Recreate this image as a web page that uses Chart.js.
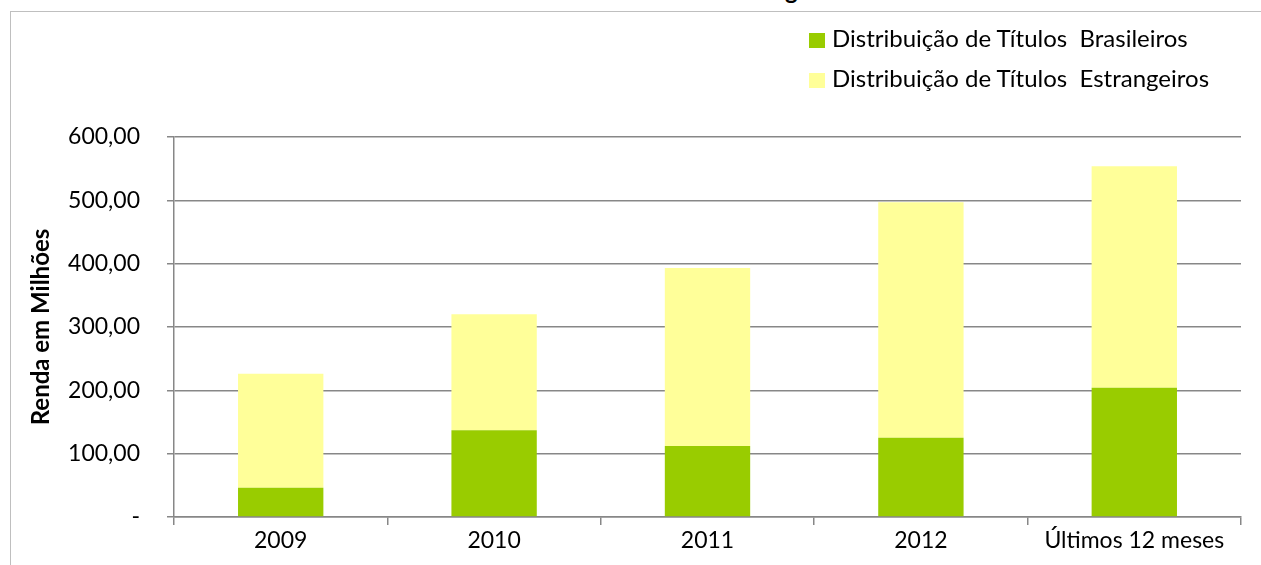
<!DOCTYPE html>
<html>
<head>
<meta charset="utf-8">
<script src="https://cdn.jsdelivr.net/npm/chart.js"></script>
<style>
  html, body { margin: 0; padding: 0; background: #fff; }
  body { width: 1261px; height: 565px; position: relative; overflow: hidden; font-family: Lato, "Open Sans", sans-serif; }
  #frame { position: absolute; left: 10px; top: 11px; width: 1300px; height: 600px; border-left: 1px solid #bfbfbf; border-top: 1px solid #bfbfbf; }
  #title { position: absolute; left: 181px; width: 1000px; top: -25px; white-space: nowrap; font-weight: bold; font-size: 24px; letter-spacing: 1.2px; color: #000; }
  #chartBox { position: absolute; left: 0; top: 0; width: 1261px; height: 565px; }
  .leg { position: absolute; left: 809px; font-size: 24px; color: #000; height: 24px; line-height: 24px; white-space: nowrap; }
  .leg span { display: inline-block; width: 16px; height: 15px; vertical-align: -1px; margin-right: 7px; }
</style>
</head>
<body>
<div id="title">Resultado de Vendas dos Títulos Nacionais e Estrangeiros em Milhões de Reais</div>
<div id="frame"></div>
<div id="chartBox"><canvas id="chart" width="1261" height="565"></canvas></div>
<div id="legend"></div>
<script>
  // Dados
  const categories = ["2009", "2010", "2011", "2012", "Últimos 12 meses"];
  const brasileiros = [46, 137, 112, 125, 204];
  const estrangeiros = [180, 183, 281, 372, 350];
  const seriesNames = ["Distribuição de Títulos  Brasileiros", "Distribuição de Títulos  Estrangeiros"];
  const seriesColors = ["#99cc00", "#ffff99"];

  const fontFamily = "Lato, 'Open Sans', sans-serif";
  const gridColor = "#878787";

  // Legenda em HTML (duas linhas, canto superior direito)
  const legendElement = document.getElementById("legend");
  seriesNames.forEach((name, i) => {
    const row = document.createElement("div");
    row.className = "leg";
    row.style.top = (26 + i * 40) + "px";
    row.innerHTML = '<span style="background:' + seriesColors[i] + '"></span>' + name.replace(/  /g, "&nbsp; ");
    legendElement.appendChild(row);
  });

  const ctx = document.getElementById("chart").getContext("2d");
  new Chart(ctx, {
    type: "bar",
    data: {
      labels: categories,
      datasets: [
        { label: seriesNames[0], data: brasileiros, backgroundColor: seriesColors[0], borderWidth: 0 },
        { label: seriesNames[1], data: estrangeiros, backgroundColor: seriesColors[1], borderWidth: 0 },
      ],
    },
    options: {
      responsive: false,
      animation: false,
      devicePixelRatio: 1,
      layout: { padding: { top: 137, right: 20, left: 0, bottom: 0 } },
      plugins: { legend: { display: false }, tooltip: { enabled: false } },
      datasets: { bar: { categoryPercentage: 1, barPercentage: 0.4 } },
      scales: {
        x: {
          stacked: true,
          grid: { offset: true, drawOnChartArea: false, drawTicks: true, tickLength: 8, color: gridColor, lineWidth: 1.5 },
          border: { color: gridColor, width: 1.5 },
          ticks: { color: "#000", font: { family: fontFamily, size: 23 }, padding: 2, maxRotation: 0 },
          afterFit: scale => { scale.height = 48; },
        },
        y: {
          stacked: true,
          min: 0,
          max: 600,
          grid: { color: gridColor, lineWidth: 1.5, tickLength: 7 },
          border: { color: gridColor, width: 1.5 },
          ticks: {
            stepSize: 100,
            color: "#000",
            font: { family: fontFamily, size: 23 },
            padding: 27,
            callback: value => value === 0 ? "-" : value.toFixed(2).replace(".", ","),
          },
          title: {
            display: true,
            text: "Renda em Milhões",
            color: "#000",
            font: { family: fontFamily, size: 24, weight: "bold" },
            padding: { top: 27, bottom: 0 },
          },
          afterFit: scale => { scale.width = 174; },
        },
      },
    },
  });
</script>
</body>
</html>
